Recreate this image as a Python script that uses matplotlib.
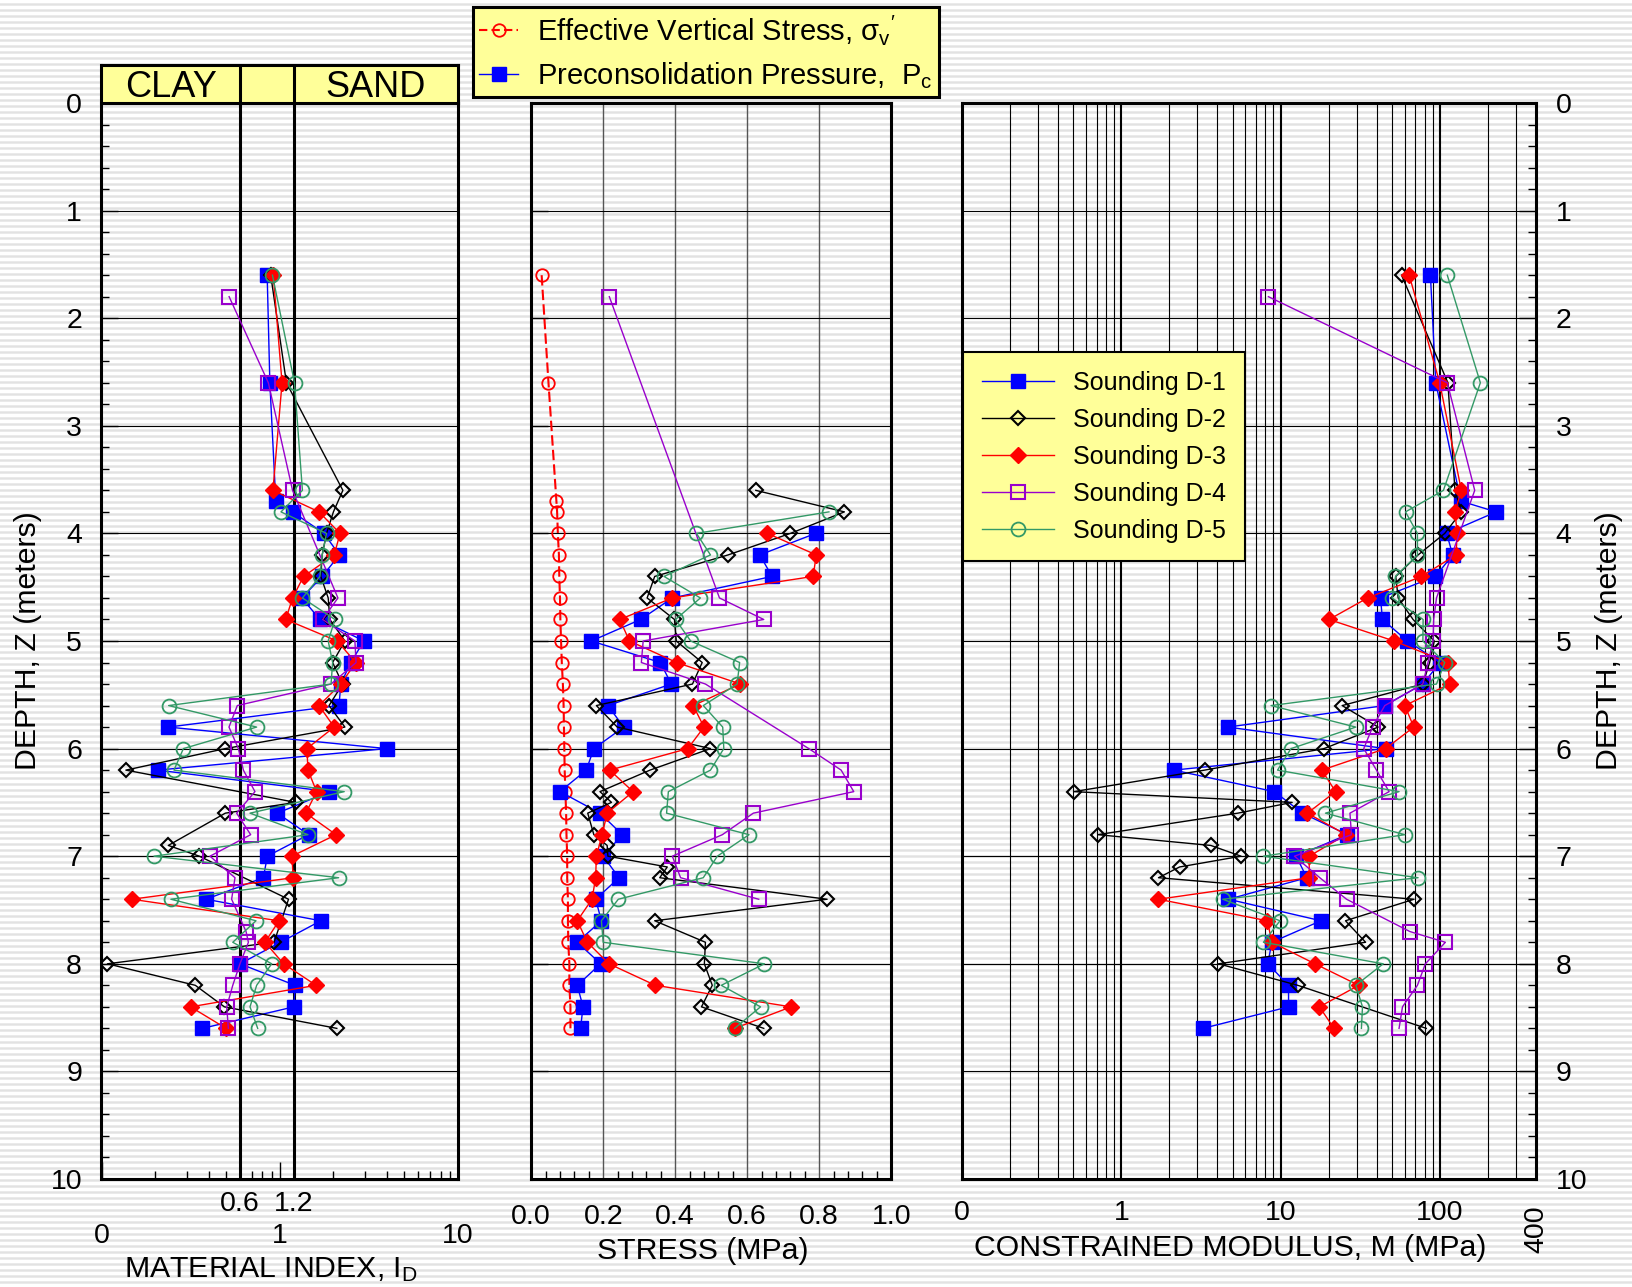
import numpy as np
import matplotlib
matplotlib.use("Agg")
import matplotlib.pyplot as plt
from matplotlib.lines import Line2D
from matplotlib.ticker import LogLocator, MultipleLocator, NullFormatter

plt.rcParams['font.family'] = ['Liberation Sans', 'DejaVu Sans']
plt.rcParams['mathtext.fontset'] = 'custom'
plt.rcParams['mathtext.rm'] = 'Liberation Sans'
plt.rcParams['mathtext.it'] = 'Liberation Sans:italic'
plt.rcParams['mathtext.bf'] = 'Liberation Sans:bold'

nan = np.nan

# Sounding D-1
depth_d1 = [1.6, 2.6, 3.7, 3.8, 4.0, 4.2, 4.4, 4.6, 4.8, 5.0, 5.2, 5.4, 5.6, 5.8,
            6.0, 6.2, 6.4, 6.6, 6.8, 7.0, 7.2, 7.4, 7.6, 7.8, 8.0, 8.2, 8.4, 8.6]
id_d1 = [0.85, 0.88, 0.95, 1.18, 1.77, 2.16, 1.73, 1.33, 1.68, 2.97, 2.50, 2.20, 2.15, 0.237,
         3.98, 0.207, 1.90, 0.969, 1.45, 0.852, 0.809, 0.386, 1.70, 1.01, 0.598, 1.22, 1.20, 0.368]
pc_d1 = [nan, nan, nan, nan, 0.79, 0.635, 0.669, 0.392, 0.304, 0.167, 0.359, 0.389, 0.213, 0.257,
         0.174, 0.153, 0.080, 0.191, 0.253, 0.200, 0.244, 0.179, 0.195, 0.128, 0.193, 0.128, 0.144, 0.137]
m_d1 = [87, 94, 135, 225, 110, 120, 93.5, 42.3, 43.5, 62.4, 100, 78, 45, 4.66,
        45.5, 2.13, 9.13, 13.7, 26.2, 12.5, 14.6, 4.7, 17.9, 8.79, 8.3, 11.2, 11.2, 3.25]

# Sounding D-2
depth_d2 = [1.6, 2.6, 3.6, 3.8, 4.0, 4.2, 4.4, 4.6, 4.8, 5.0, 5.2, 5.4, 5.6, 5.8, 6.0, 6.2,
            6.4, 6.5, 6.6, 6.8, 6.9, 7.0, 7.1, 7.2, 7.4, 7.6, 7.8, 8.0, 8.2, 8.4, 8.6]
id_d2 = [0.89, 1.09, 2.26, 2.00, 1.83, 1.73, 1.70, 1.87, 1.91, 2.32, 1.98, 2.25, 1.89, 2.32, 0.495, 0.137,
         nan, 1.23, 0.495, nan, 0.237, 0.354, nan, nan, 1.12, nan, 0.929, 0.108, 0.336, 0.489, 2.09]
pc_d2 = [nan, nan, 0.624, 0.870, 0.720, 0.547, 0.343, 0.322, 0.398, 0.403, 0.475, 0.448, 0.181, 0.239,
         0.498, 0.330, 0.191, 0.223, 0.157, 0.174, 0.211, 0.213, 0.378, 0.357, 0.822, 0.343, 0.484,
         0.481, 0.503, 0.473, 0.646]
m_d2 = [57.3, 112, 124, 136, 107, 72.8, 52.7, 54.6, 67.7, 92, 86, 78, 24.3, 40.9, 18.7, 3.33,
        0.503, 11.8, 5.38, 0.711, 3.64, 5.64, 2.32, 1.71, 68.7, 25.5, 34.1, 4.07, 12.8, nan, 82]

# Sounding D-3
depth_d3 = [1.6, 2.6, 3.6, 3.8, 4.0, 4.2, 4.4, 4.6, 4.8, 5.0, 5.2, 5.4, 5.6, 5.8,
            6.0, 6.2, 6.4, 6.6, 6.8, 7.0, 7.2, 7.4, 7.6, 7.8, 8.0, 8.2, 8.4, 8.6]
id_d3 = [0.92, 1.03, 0.916, 1.66, 2.18, 2.02, 1.36, 1.18, 1.08, 2.10, 2.67, 2.20, 1.66, 2.02,
         1.42, 1.44, 1.61, 1.40, 2.07, 1.17, 1.19, 0.148, 0.99, 0.827, 1.05, 1.60, 0.316, 0.50]
pc_d3 = [nan, nan, nan, nan, 0.656, 0.792, 0.783, 0.392, 0.246, 0.273, 0.404, 0.581, 0.450, 0.480,
         0.435, 0.218, 0.283, 0.211, 0.197, 0.181, 0.179, 0.169, 0.128, 0.156, 0.216, 0.345, 0.722, 0.565]
m_d3 = [64, 99.5, 136, 124, 128, 126, 76.4, 35.1, 20.1, 51.5, 112, 115, 60.1, 68.4,
        45.5, 18.1, 22.1, 14.7, 25.7, 15.1, 15.1, 1.71, 8.25, 8.8, 16.4, 30.9, 17.5, 21.6]

# Sounding D-4
depth_d4 = [1.8, 2.6, 3.6, 4.6, 4.8, 5.0, 5.2, 5.4, 5.6, 5.8, 6.0, 6.2, 6.4, 6.6,
            6.8, 7.0, 7.2, 7.4, 7.7, 7.8, 8.0, 8.2, 8.4, 8.6]
id_d4 = [0.52, 0.863, 1.18, 2.12, 1.74, 2.64, 2.68, 1.94, 0.578, 0.519, 0.586, 0.625, 0.726, 0.573,
         0.687, 0.406, 0.561, 0.537, 0.647, 0.667, 0.598, 0.545, 0.504, 0.515]
pc_d4 = [0.217, nan, nan, 0.523, 0.646, 0.311, 0.306, 0.484, nan, nan, 0.771, 0.861, 0.896, 0.617,
         0.531, 0.392, 0.415, 0.632, nan, nan, nan, nan, nan, nan]
m_d4 = [8.37, 111, 165, 95, 91.2, 90.4, 84, 78, 45, 37.7, 33.2, 39.9, 47.9, 27.2,
        27.8, 12.2, 17.6, 25.9, 64.6, 108, 80.9, 72.1, 58.1, 55.3]

# Sounding D-5
depth_d5 = [1.6, 2.6, 3.6, 3.8, 4.0, 4.2, 4.4, 4.6, 4.8, 5.0, 5.2, 5.4, 5.6, 5.8,
            6.0, 6.2, 6.4, 6.6, 6.8, 7.0, 7.2, 7.4, 7.6, 7.8, 8.0, 8.2, 8.4, 8.6]
id_d5 = [0.91, 1.21, 1.34, 1.016, 1.83, 1.73, 1.68, 1.34, 2.04, 1.87, 1.98, 1.94, 0.238, 0.742,
         0.288, 0.255, 2.30, 0.681, 1.44, 0.197, 2.14, 0.245, 0.736, 0.545, 0.901, 0.742, 0.681, 0.752]
pc_d5 = [nan, nan, nan, 0.827, 0.459, 0.498, 0.369, 0.470, 0.401, 0.443, 0.579, 0.572, 0.478, 0.532,
         0.535, 0.498, 0.381, 0.376, 0.605, 0.517, 0.478, 0.242, 0.195, 0.200, 0.648, 0.528, 0.637, 0.565]
m_d5 = [111, 179, 105, 60.7, 72.1, 72.1, 52.5, 50, 78.3, 78, 107, 95, 8.7, 29.6,
        11.6, 9.55, 55.3, 19.1, 60.1, 7.79, 72.8, 4.33, 9.9, 7.79, 44, 29.6, 32.6, 32.1]

# Effective vertical stress
depth_sv = [1.6, 2.6, 3.7, 3.8, 4.0, 4.2, 4.4, 4.6, 4.8, 5.0, 5.2, 5.4, 5.6, 5.8,
            6.0, 6.2, 6.4, 6.6, 6.8, 7.0, 7.2, 7.4, 7.6, 7.8, 8.0, 8.2, 8.4, 8.6]
sigma_v = [0.029, 0.048, 0.070, 0.072, 0.074, 0.077, 0.078, 0.080, 0.081, 0.083, 0.085, 0.088, 0.090, 0.091,
           0.092, 0.093, 0.095, 0.097, 0.098, 0.100, 0.100, 0.102, 0.102, 0.103, 0.106, 0.106, 0.109, 0.109]

soundings = [
    ("Sounding D-1", depth_d1, id_d1, pc_d1, m_d1,
     dict(color="#0000ff", marker="s", ms=10, mfc="#0000ff", mec="#0000ff", lw=1.0)),
    ("Sounding D-2", depth_d2, id_d2, pc_d2, m_d2,
     dict(color="black", marker="D", ms=7.5, mfc="none", mec="black", mew=1.5, lw=1.0)),
    ("Sounding D-3", depth_d3, id_d3, pc_d3, m_d3,
     dict(color="#ff0000", marker="D", ms=8, mfc="#ff0000", mec="#ff0000", lw=1.0)),
    ("Sounding D-4", depth_d4, id_d4, pc_d4, m_d4,
     dict(color="#9900cc", marker="s", ms=9.5, mfc="none", mec="#9900cc", mew=1.5, lw=1.0)),
    ("Sounding D-5", depth_d5, id_d5, pc_d5, m_d5,
     dict(color="#339966", marker="o", ms=10, mfc="none", mec="#339966", mew=1.3, lw=1.0)),
]

W, H = 1633, 1287
fig = plt.figure(figsize=(W / 100, H / 100), dpi=100)

# striped paper background
rows = np.array([255, 255, 255, 234, 226, 234], float) / 255
col = np.tile(rows, H // len(rows) + 1)[:H]
bg = np.repeat(col[:, None], W, axis=1)
fig.figimage(np.dstack([bg, bg, bg]), xo=0, yo=0, zorder=-10)


def rect(x0, y0, x1, y1):
    return [x0 / W, 1 - y1 / H, (x1 - x0) / W, (y1 - y0) / H]


ax1 = fig.add_axes(rect(101.5, 103, 458, 1179))
ax2 = fig.add_axes(rect(531.2, 103, 891.2, 1179))
ax3 = fig.add_axes(rect(962, 103, 1536, 1179))
axh = fig.add_axes(rect(101.5, 65, 458, 103))

SPINE = 2.2
TICK = 20.5
LABEL = 21.8

for ax in (ax1, ax2, ax3):
    ax.set_facecolor("none")
    ax.set_ylim(10, 0)
    ax.set_yticks(range(11))
    ax.grid(axis="y", which="major", color="black", lw=0.8)
    for s in ax.spines.values():
        s.set_linewidth(SPINE)
    ax.tick_params(axis="both", which="both", direction="in", top=False, right=False)
    ax.set_axisbelow(True)

# ---- material index panel
ax1.set_xscale("log")
ax1.set_xlim(0.1, 10)
ax1.set_xticks([0.1, 1, 10], ["0", "1", "10"])
ax1.xaxis.set_minor_locator(LogLocator(base=10, subs=np.arange(2, 10), numticks=20))
ax1.xaxis.set_minor_formatter(NullFormatter())
ax1.yaxis.set_minor_locator(MultipleLocator(0.2))
ax1.tick_params(axis="x", which="major", length=12, width=1, labelsize=TICK, pad=32)
ax1.tick_params(axis="x", which="minor", length=6, width=1)
ax1.tick_params(axis="y", which="major", length=12, width=1, labelsize=TICK, pad=14)
ax1.tick_params(axis="y", which="minor", length=6, width=1)
for v in (0.6, 1.2):
    ax1.axvline(v, color="black", lw=SPINE, zorder=2)
    ax1.text(v, -0.0235, f"{v}", transform=ax1.get_xaxis_transform(), ha="center", va="center",
             fontsize=TICK)
ax1.set_ylabel("DEPTH, Z (meters)", fontsize=LABEL)
ax1.yaxis.set_label_coords(-0.205, 0.5)
ax1.yaxis.label.set_va("center")
ax1.set_xlabel(r"MATERIAL INDEX, I$_{\mathrm{D}}$", fontsize=LABEL)
ax1.xaxis.set_label_coords(0.475, -0.0911)
ax1.xaxis.label.set_va("baseline")

# header box
axh.set_xscale("log")
axh.set_xlim(0.1, 10)
axh.set_ylim(0, 1)
axh.set_facecolor("#ffff99")
for s in axh.spines.values():
    s.set_linewidth(SPINE)
axh.tick_params(which="both", bottom=False, left=False, labelbottom=False, labelleft=False)
for v in (0.6, 1.2):
    axh.axvline(v, color="black", lw=SPINE)
axh.text(np.sqrt(0.1 * 0.6), 0.16, "CLAY", ha="center", va="baseline", fontsize=26)
axh.text(np.sqrt(1.2 * 10), 0.16, "SAND", ha="center", va="baseline", fontsize=26)

# ---- stress panel
ax2.set_xlim(0, 1)
ax2.set_xticks(np.arange(0, 1.01, 0.2), [f"{v:.1f}" for v in np.arange(0, 1.01, 0.2)])
ax2.xaxis.set_minor_locator(MultipleLocator(0.04))
ax2.grid(axis="x", which="major", color="#555555", lw=1.0)
ax2.tick_params(axis="x", which="major", length=0, labelsize=TICK, pad=18)
ax2.tick_params(axis="x", which="minor", length=6, width=1)
ax2.tick_params(axis="y", which="major", length=12, width=1, labelleft=False)
ax2.set_xlabel("STRESS (MPa)", fontsize=LABEL)
ax2.xaxis.set_label_coords(0.477, -0.0743)
ax2.xaxis.label.set_va("baseline")

ax2.plot(sigma_v, depth_sv, color="#ff0000", ls=(0, (5, 2)), lw=1.5, marker="o", ms=9,
         mfc="none", mec="#ff0000", mew=1.3, zorder=3)

# ---- constrained modulus panel
ax3.set_xscale("log")
ax3.set_xlim(0.1, 400)
ax3.set_xticks([0.1, 1, 10, 100], ["0", "1", "10", "100"])
ax3.xaxis.set_minor_locator(LogLocator(base=10, subs=np.arange(2, 10), numticks=20))
ax3.xaxis.set_minor_formatter(NullFormatter())
ax3.grid(axis="x", which="major", color="black", lw=1.5)
ax3.grid(axis="x", which="minor", color="black", lw=0.8)
ax3.tick_params(axis="x", which="both", length=0, labelsize=TICK, pad=15)
ax3.yaxis.set_minor_locator(MultipleLocator(0.2))
ax3.tick_params(axis="y", which="both", left=False, right=True, labelleft=False, labelright=True)
ax3.tick_params(axis="y", which="major", length=12, width=1, labelsize=TICK, pad=14)
ax3.tick_params(axis="y", which="minor", length=6, width=1)
ax3.yaxis.set_label_position("right")
ax3.set_ylabel("DEPTH, Z (meters)", fontsize=LABEL)
ax3.yaxis.set_label_coords(1.127, 0.5)
ax3.yaxis.label.set_va("center")
ax3.set_xlabel("CONSTRAINED MODULUS, M (MPa)", fontsize=LABEL)
ax3.xaxis.set_label_coords(0.467, -0.0716)
ax3.xaxis.label.set_va("baseline")
ax3.text(400, -0.0465, "400", transform=ax3.get_xaxis_transform(), rotation=90,
         ha="center", va="center", fontsize=TICK)

# ---- data
def draw(ax, depth, vals, style, label=None):
    d = np.asarray(depth, float)
    v = np.asarray(vals, float)
    ok = ~np.isnan(v)
    return ax.plot(v[ok], d[ok], zorder=3, label=label, **style)[0]


for name, depth, idv, pcv, mv, style in soundings:
    draw(ax1, depth, idv, style)
    draw(ax2, depth, pcv, style)
    draw(ax3, depth, mv, style, label=name)

leg = ax3.legend(loc="upper left", bbox_to_anchor=(0.0017, 0.7686), borderaxespad=0,
                 fontsize=18, frameon=True, fancybox=False, edgecolor="black",
                 facecolor="#ffff99", framealpha=1, handlelength=2.9, handletextpad=0.75,
                 labelspacing=0.52, borderpad=0.75)
leg.get_frame().set_linewidth(1.5)

top_handles = [
    Line2D([], [], color="#ff0000", ls=(0, (4, 2)), lw=1.5, marker="o", ms=9, mfc="none",
           mec="#ff0000", mew=1.3),
    Line2D([], [], color="#0000ff", lw=1.0, marker="s", ms=10, mfc="#0000ff", mec="#0000ff"),
]
top_labels = [r"Effective Vertical Stress, $\mathrm{\sigma_{v}{}^{\prime}}$",
              r"Preconsolidation Pressure,  $\mathrm{P_{c}}$"]
leg2 = fig.legend(top_handles, top_labels, loc="upper left", bbox_to_anchor=(473 / W, 1 - 7 / H),
                  borderaxespad=0, fontsize=21, frameon=True, fancybox=False, edgecolor="black",
                  facecolor="#ffff99", framealpha=1, handlelength=1.35, handletextpad=0.65,
                  labelspacing=0.45, borderpad=0.2)
leg2.get_frame().set_linewidth(SPINE)

fig.savefig("out.png", dpi=100)
